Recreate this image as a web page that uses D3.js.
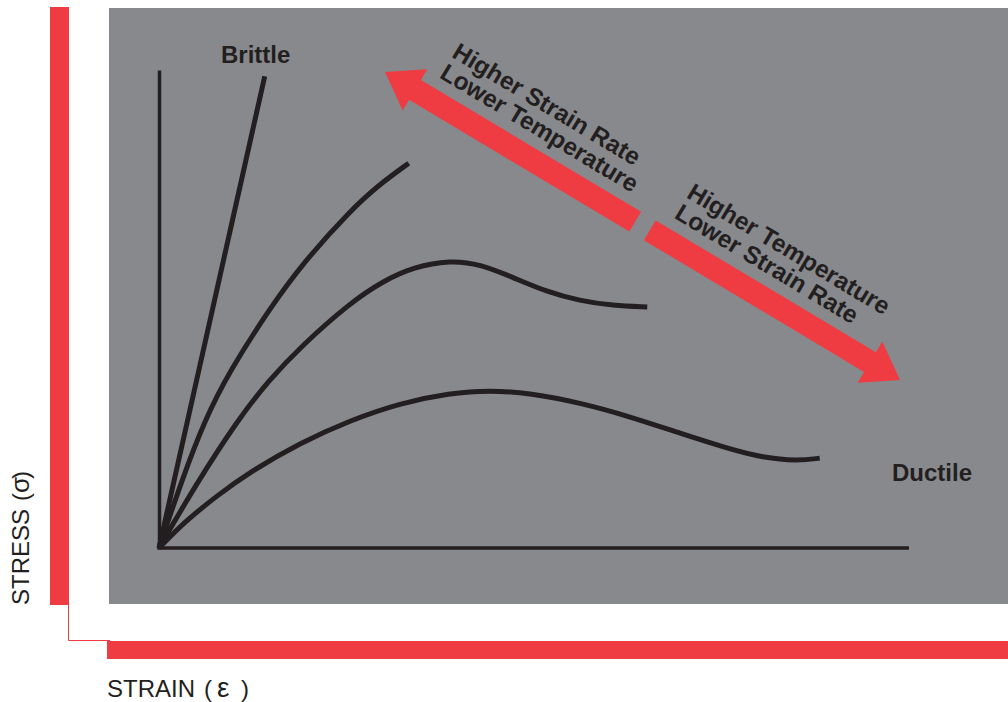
<!DOCTYPE html>
<html>
<head>
<meta charset="utf-8">
<script src="https://cdn.jsdelivr.net/npm/d3@7"></script>
<style>
  html, body { margin: 0; padding: 0; background: #ffffff; }
  svg { display: block; }
</style>
</head>
<body>
<svg id="chart" width="1008" height="702"></svg>
<script>
// ---- data (strain, stress in arbitrary units 0..100) ----
const curveNames = ["Brittle", "Curve2", "Curve3", "Ductile"];
const brittle = [[0, 0], [14.1, 98.7]];
const curve2 = [[0, 0], [3.0, 14.0], [6.1, 26.8], [9.4, 37.0], [14.8, 50.2], [19.3, 59.8], [25.5, 70.6], [29.5, 76.2], [33.3, 80.5]];
const curve3 = [[0, 0], [5.0, 13.5], [10.5, 26.8], [14.6, 35.0], [19.0, 42.3], [25.5, 51.3], [29.8, 55.8], [34.0, 58.8],
                [38.8, 60.2], [42.8, 59.4], [47.2, 56.6], [51.7, 53.6], [56.1, 51.7], [60.5, 50.7], [65.1, 50.4]];
const curve4 = [[0, 0], [3.5, 5.6], [7.7, 10.9], [12.1, 15.9], [18.8, 22.0], [25.5, 26.7], [32.1, 30.3], [38.8, 32.4],
                [44.1, 33.0], [49.5, 32.4], [56.1, 30.4], [62.8, 27.5], [69.5, 24.0], [76.1, 20.7], [80.5, 18.9],
                [85.1, 18.2], [88.1, 18.8]];
const seriesList = [brittle, curve2, curve3, curve4];
const curveLabels = ["Brittle", "Ductile"];
const arrowTextUp = ["Higher Strain Rate", "Lower Temperature"];
const arrowTextDown = ["Higher Temperature", "Lower Strain Rate"];
const axisLabels = ["STRESS", "STRAIN"];
const axisSymbols = ["σ", "ε"];

// ---- styling ----
const RED = "#ef3b42";
const GRAY = "#88898c";
const INK = "#231f20";

const svg = d3.select("#chart");

// frame decorations
svg.append("rect").attr("x", 50).attr("y", 7).attr("width", 19).attr("height", 598).attr("fill", RED);
svg.append("path").attr("d", "M68.5,605 V640.5 H110").attr("fill", "none").attr("stroke", RED).attr("stroke-width", 1);
svg.append("rect").attr("x", 107).attr("y", 641).attr("width", 901).attr("height", 18).attr("fill", RED);
svg.append("rect").attr("x", 109).attr("y", 8).attr("width", 899).attr("height", 596).attr("fill", GRAY);

// scales
const x = d3.scaleLinear().domain([0, 100]).range([159, 909]);
const y = d3.scaleLinear().domain([0, 100]).range([548, 70]);

// axes (no ticks)
const xAxis = d3.axisBottom(x).ticks(0).tickSizeOuter(0);
const yAxis = d3.axisLeft(y).ticks(0).tickSizeOuter(0);
const gx = svg.append("g").attr("transform", `translate(0,${y(0)})`).call(xAxis);
const gy = svg.append("g").attr("transform", `translate(${x(0)},0)`).call(yAxis);
[gx, gy].forEach(g => g.select(".domain").attr("stroke", INK).attr("stroke-width", 3.5));
gx.select(".domain").attr("d", `M${x(0) - 1.75},0H${x(100)}`);

// curves
const line = d3.line().x(d => x(d[0])).y(d => y(d[1])).curve(d3.curveBasis);
svg.append("g").selectAll("path").data(seriesList).join("path")
  .attr("d", line)
  .attr("fill", "none")
  .attr("stroke", INK)
  .attr("stroke-width", 5)
  .attr("stroke-linecap", "butt")
  .attr("stroke-linejoin", "round");

// curve labels
const labelFont = "'Liberation Sans', Arial, Helvetica, sans-serif";
svg.append("text").attr("x", 221).attr("y", 63).text(curveLabels[0])
  .attr("font-family", labelFont).attr("font-weight", "bold").attr("font-size", 24).attr("fill", INK);
svg.append("text").attr("x", 892).attr("y", 481).text(curveLabels[1])
  .attr("font-family", labelFont).attr("font-weight", "bold").attr("font-size", 24).attr("fill", INK);

// arrows along a common line
const A = [385, 72], B = [900, 380];
const dx = B[0] - A[0], dy = B[1] - A[1];
const L = Math.hypot(dx, dy);
const ux = dx / L, uy = dy / L;       // along
const nx = -uy, ny = ux;              // perpendicular (down-right side)
const ang = Math.atan2(dy, dx) * 180 / Math.PI;
const shaftW = 23, headW = 48, headL = 35, gap = 17;
const P = (s, t) => [A[0] + ux * s + nx * t, A[1] + uy * s + ny * t];
function arrowPoly(tipS, baseS, dir) {
  const hb = tipS - dir * headL;
  return [P(tipS, 0), P(hb, headW / 2), P(hb, shaftW / 2), P(baseS, shaftW / 2),
          P(baseS, -shaftW / 2), P(hb, -shaftW / 2), P(hb, -headW / 2)];
}
const mid = L / 2;
const arrows = [arrowPoly(0, mid - gap / 2, -1), arrowPoly(L, mid + gap / 2, 1)];
svg.append("g").selectAll("polygon").data(arrows).join("polygon")
  .attr("points", d => d.map(p => p.join(",")).join(" "))
  .attr("fill", RED);

// arrow texts
function arrowText(lines, along) {
  lines.forEach((t, i) => {
    const off = i === 0 ? -47 : -23;
    const p = P(along, off);
    svg.append("text")
      .attr("transform", `translate(${p[0]},${p[1]}) rotate(${ang})`)
      .attr("font-family", labelFont).attr("font-weight", "bold")
      .attr("font-size", 24.5).attr("fill", INK)
      .text(t);
  });
}
arrowText(arrowTextUp, 48.5);
arrowText(arrowTextDown, 322);

// axis titles
const titleFont = "'Liberation Sans', Arial, Helvetica, sans-serif";
const ys = svg.append("text")
  .attr("transform", "translate(28.5,605) rotate(-90)")
  .attr("font-family", titleFont).attr("font-size", 24).attr("fill", INK);
ys.append("tspan").attr("x", 0).text(axisLabels[0]);
ys.append("tspan").attr("x", 104).text("(");
ys.append("tspan").attr("x", 112).attr("font-size", 26).text(axisSymbols[0]);
ys.append("tspan").attr("x", 126).text(")");

const xs = svg.append("text")
  .attr("transform", "translate(107,697)")
  .attr("font-family", titleFont).attr("font-size", 24).attr("fill", INK);
xs.append("tspan").attr("x", 0).text(axisLabels[1]);
xs.append("tspan").attr("x", 97).text("(");
xs.append("tspan").attr("x", 110).attr("font-size", 28).text(axisSymbols[1]);
xs.append("tspan").attr("x", 134).text(")");
</script>
</body>
</html>
